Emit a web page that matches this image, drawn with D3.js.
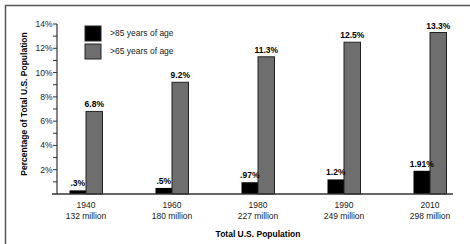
<!DOCTYPE html>
<html>
<head>
<meta charset="utf-8">
<script src="https://cdn.jsdelivr.net/npm/d3@7"></script>
<style>
  body { margin: 0; background: #fff; }
  svg { font-family: "Liberation Sans", Arial, sans-serif; }
</style>
</head>
<body>
<div id="chart"></div>
<script>
// Chart data.
var years = ["1940", "1960", "1980", "1990", "2010"];
var populations = ["132 million", "180 million", "227 million", "249 million", "298 million"];
var over85 = [0.3, 0.5, 0.97, 1.2, 1.91];
var over65 = [6.8, 9.2, 11.3, 12.5, 13.3];
var over85Labels = [".3%", ".5%", ".97%", "1.2%", "1.91%"];
var over65Labels = ["6.8%", "9.2%", "11.3%", "12.5%", "13.3%"];
var seriesNames = [">85 years of age", ">65 years of age"];
var yTicks = [2, 4, 6, 8, 10, 12, 14];

var width = 470, height = 244;
var dark = "#333", gray = "#6e6e6e";

var svg = d3.select("#chart").append("svg")
  .attr("width", width)
  .attr("height", height);

// Frame around the figure (right and bottom edges fall off the page).
svg.append("path")
  .attr("d", "M5.5," + height + "V5.5H" + width)
  .attr("fill", "none")
  .attr("stroke", "#555")
  .attr("stroke-width", 1.5);

// Scales.
var x = d3.scalePoint().domain(years).range([86, 430]);
var y = d3.scaleLinear().domain([0, 14]).range([194, 24]);
var barW = 16.5;

// Y axis: ticks at every percent, labels on even ones.
var yAxis = svg.append("g").attr("transform", "translate(57,0)");
yAxis.append("line")
  .attr("y1", y(0)).attr("y2", y(14))
  .attr("stroke", dark).attr("stroke-width", 1.2);
yAxis.selectAll("line.tick")
  .data(d3.range(1, 15))
  .join("line")
  .attr("class", "tick")
  .attr("x1", -4).attr("x2", 0)
  .attr("y1", function (d) { return y(d); })
  .attr("y2", function (d) { return y(d); })
  .attr("stroke", dark).attr("stroke-width", 1);
yAxis.selectAll("text")
  .data(yTicks)
  .join("text")
  .attr("x", -4.5)
  .attr("y", function (d) { return y(d); })
  .attr("dy", "0.35em")
  .attr("text-anchor", "end")
  .attr("font-size", 8.5)
  .attr("fill", "#222")
  .text(function (d) { return d + "%"; });

// Bars.
var g = svg.append("g");
g.selectAll("rect.b85")
  .data(years)
  .join("rect")
  .attr("class", "b85")
  .attr("x", function (d) { return x(d) - barW; })
  .attr("y", function (d, i) { return y(over85[i]); })
  .attr("width", barW)
  .attr("height", function (d, i) { return y(0) - y(over85[i]); })
  .attr("fill", "#000");
g.selectAll("rect.b65")
  .data(years)
  .join("rect")
  .attr("class", "b65")
  .attr("x", function (d) { return x(d); })
  .attr("y", function (d, i) { return y(over65[i]); })
  .attr("width", barW)
  .attr("height", function (d, i) { return y(0) - y(over65[i]); })
  .attr("fill", gray)
  .attr("stroke", "#222")
  .attr("stroke-width", 1);

// Value labels.
g.selectAll("text.l85")
  .data(years)
  .join("text")
  .attr("class", "l85")
  .attr("x", function (d) { return x(d) - barW / 2; })
  .attr("y", function (d, i) { return y(over85[i]) - 4; })
  .attr("text-anchor", "middle")
  .attr("font-size", 8.5)
  .attr("font-weight", "bold")
  .text(function (d, i) { return over85Labels[i]; });
g.selectAll("text.l65")
  .data(years)
  .join("text")
  .attr("class", "l65")
  .attr("x", function (d) { return x(d) + barW / 2; })
  .attr("y", function (d, i) { return y(over65[i]) - 4; })
  .attr("text-anchor", "middle")
  .attr("font-size", 8.5)
  .attr("font-weight", "bold")
  .text(function (d, i) { return over65Labels[i]; });

// X baseline.
svg.append("line")
  .attr("x1", 52).attr("x2", 453)
  .attr("y1", y(0)).attr("y2", y(0))
  .attr("stroke", dark).attr("stroke-width", 1.5);

// Category labels: year and population.
var xl = svg.append("g").selectAll("text")
  .data(years)
  .join("text")
  .attr("text-anchor", "middle")
  .attr("font-size", 8.5)
  .attr("fill", "#222");
xl.append("tspan")
  .attr("x", function (d) { return x(d); })
  .attr("y", 208)
  .text(function (d) { return d; });
xl.append("tspan")
  .attr("x", function (d) { return x(d); })
  .attr("y", 219)
  .text(function (d, i) { return populations[i]; });

// Axis titles.
svg.append("text")
  .attr("x", 258).attr("y", 237)
  .attr("text-anchor", "middle")
  .attr("font-size", 8.5)
  .attr("font-weight", "bold")
  .text("Total U.S. Population");
svg.append("text")
  .attr("transform", "translate(27,104) rotate(-90)")
  .attr("text-anchor", "middle")
  .attr("font-size", 8.5)
  .attr("font-weight", "bold")
  .text("Percentage of Total U.S. Population");

// Legend.
var legend = svg.append("g").selectAll("g")
  .data(seriesNames)
  .join("g")
  .attr("transform", function (d, i) { return "translate(85," + (26 + i * 18) + ")"; });
legend.append("rect")
  .attr("width", 16).attr("height", 15)
  .attr("fill", function (d, i) { return i === 0 ? "#000" : gray; })
  .attr("stroke", "#222").attr("stroke-width", 1);
legend.append("text")
  .attr("x", 25).attr("y", 7.5)
  .attr("dy", "0.35em")
  .attr("font-size", 8.5)
  .attr("fill", "#222")
  .text(function (d) { return d; });
</script>
</body>
</html>
